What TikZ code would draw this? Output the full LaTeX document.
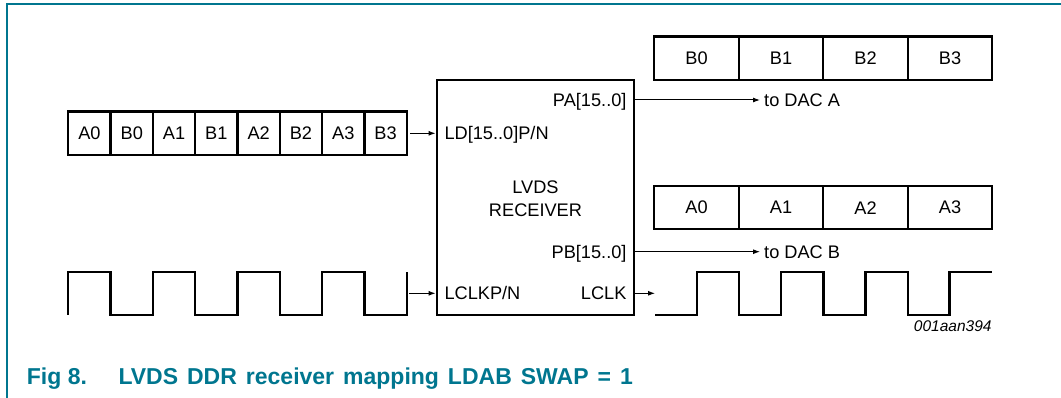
\documentclass[tikz,border=0pt]{standalone}
\usepackage{fontspec}
\setmainfont{Liberation Sans}
\usetikzlibrary{arrows.meta}
\definecolor{nxpteal}{RGB}{0,118,143}
\begin{document}
\begin{tikzpicture}[x=1pt,y=-1pt,
  txt/.style={font=\fontsize{18.2}{23}\selectfont, inner sep=0pt, text=black},
  cell/.style={draw, line width=2.3pt, inner sep=0pt, minimum height=43.3pt, font=\fontsize{18.2}{23}\selectfont},
  wave/.style={line width=2.3pt, line join=miter},
  arr/.style={line width=1pt, -{Latex[length=7pt,width=5pt]}},
  frame/.style={draw=nxpteal, line width=1.2pt},
  captxt/.style={inner sep=0pt, anchor=base west, text=nxpteal, font=\fontsize{23}{27}\selectfont\bfseries}]
\useasboundingbox (0,0) rectangle (1061,398);
% frame
\draw[frame] (7,398) -- (7,4) -- (1061,4);
% left data row
\foreach \t [count=\i] in {A0,B0,A1,B1,A2,B2,A3,B3}{
  \node[cell, minimum width=42.3pt] (l\i) at ({68.3+42.3*(\i-0.5)},133.3) {\t};
}
% top right row
\foreach \t [count=\i] in {B0,B1,B2,B3}{
  \node[cell, minimum width=84.5pt] (ra\i) at ({654.3+84.5*(\i-0.5)},58.3) {\t};
}
% lower right row
\foreach \t [count=\i] in {A0,A1,A2,A3}{
  \node[cell, minimum width=84.5pt] (rb\i) at ({654.3+84.5*(\i-0.5)},207.7) {\t};
}
% receiver
\node[draw, line width=2.3pt, minimum width=197.6pt, minimum height=235pt, inner sep=0pt] (rx) at (535.5,197.5) {};
\node[txt, anchor=base] (lvds) at (535.5,193.5) {LVDS};
\node[txt, anchor=base] (recv) at (535.5,216.7) {RECEIVER};
\node[txt, anchor=base west] (ld) at (444.3,140) {LD[15..0]P/N};
\node[txt, anchor=base east] (pa) at (626.7,106.6) {PA[15..0]};
\node[txt, anchor=base east] (pb) at (626.7,258.3) {PB[15..0]};
\node[txt, anchor=base west] (lclkpn) at (444.3,300) {LCLKP/N};
\node[txt, anchor=base east] (lclk) at (626.7,300) {LCLK};
% outputs
\coordinate (dacA) at (760,100);
\coordinate (dacB) at (760,251.7);
\draw[arr] (rx.east |- dacA) -- (dacA);
\draw[arr] (rx.east |- dacB) -- (dacB);
\node[txt, anchor=base west] (toA) at (764,106.6) {to DAC A};
\node[txt, anchor=base west] (toB) at (764,258.3) {to DAC B};
% inputs
\draw[arr, shorten <=2.5pt] (l8.east) -- (l8.east -| rx.west);
\coordinate (clkin) at (409,293.3);
\draw[arr] (clkin) -- (clkin -| rx.west);
\coordinate (clkout) at (655,293.3);
\draw[arr] (rx.east |- clkout) -- (clkout);
% clocks
\draw[wave] (68.3,315) -- (68.3,271.7) -- (110.6,271.7) -- (110.6,315) -- (152.9,315) -- (152.9,271.7)
  -- (195.2,271.7) -- (195.2,315) -- (237.5,315) -- (237.5,271.7) -- (279.8,271.7) -- (279.8,315)
  -- (322.1,315) -- (322.1,271.7) -- (364.4,271.7) -- (364.4,315) -- (406.7,315) -- (406.7,271.7);
\draw[wave] (655,315) -- (696.7,315) -- (696.7,271.7) -- (739.1,271.7) -- (739.1,315) -- (781.3,315)
  -- (781.3,271.7) -- (823.5,271.7) -- (823.5,315) -- (865.5,315) -- (865.5,271.7) -- (907.8,271.7)
  -- (907.8,315) -- (949.5,315) -- (949.5,271.7) -- (992,271.7);
% figure id
\node[inner sep=0pt, anchor=base east, font=\fontsize{15.5}{18}\selectfont\itshape] (fid) at (991.7,331.5) {001aan394};
% caption
\node[captxt] (fig) at (26.7,384.5) {Fig 8.};
\node[captxt] (cap) at (118.3,384.5) {\spaceskip=9pt\relax LVDS DDR receiver mapping LDAB SWAP = 1};
\end{tikzpicture}
\end{document}
